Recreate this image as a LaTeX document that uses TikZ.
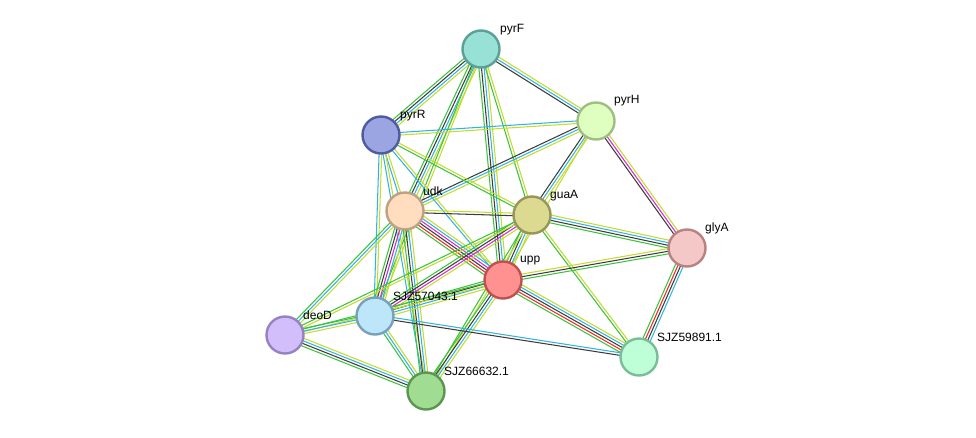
\documentclass[tikz,border=0pt]{standalone}
\usepackage{fontspec}
\setmainfont{Liberation Sans}
\usetikzlibrary{calc,backgrounds}
\definecolor{G}{RGB}{60,195,60}
\definecolor{R}{RGB}{240,40,40}
\definecolor{K}{RGB}{60,60,60}
\definecolor{M}{RGB}{215,40,215}
\definecolor{C}{RGB}{50,180,225}
\definecolor{Y}{RGB}{195,220,45}
\definecolor{fpyrF}{RGB}{152,225,214}\definecolor{bpyrF}{RGB}{90,160,150}
\definecolor{fpyrH}{RGB}{222,255,192}\definecolor{bpyrH}{RGB}{160,190,130}
\definecolor{fpyrR}{RGB}{155,165,225}\definecolor{bpyrR}{RGB}{80,90,160}
\definecolor{fudk}{RGB}{255,221,190}\definecolor{budk}{RGB}{190,160,130}
\definecolor{fguaA}{RGB}{220,218,145}\definecolor{bguaA}{RGB}{150,150,90}
\definecolor{fglyA}{RGB}{245,200,200}\definecolor{bglyA}{RGB}{185,130,130}
\definecolor{fupp}{RGB}{255,145,145}\definecolor{bupp}{RGB}{190,80,80}
\definecolor{fsa}{RGB}{190,230,250}\definecolor{bsa}{RGB}{120,160,185}
\definecolor{fdeoD}{RGB}{210,190,250}\definecolor{bdeoD}{RGB}{150,130,195}
\definecolor{fsb}{RGB}{190,255,215}\definecolor{bsb}{RGB}{120,190,150}
\definecolor{fsc}{RGB}{160,220,145}\definecolor{bsc}{RGB}{90,150,80}
\newcommand\stedge[3]{%
  \foreach \cc [count=\ii] in {#3} {\xdef\nlin{\ii}}%
  \foreach \cc [count=\ii] in {#3} {%
    \pgfmathsetmacro\off{(\ii-(\nlin+1)/2)*2.6}%
    \draw[line width=1.05pt,\cc] ($(#1)!\off pt!90:(#2)$) -- ($(#2)!\off pt!-90:(#1)$);%
  }%
}
\begin{document}
\begin{tikzpicture}[x=1pt,y=-1pt,
  prot/.style={circle,line width=2.4pt,minimum size=37pt,inner sep=0pt},
  lab/.style={anchor=west,font=\fontsize{12}{14}\selectfont,inner sep=0pt}]
\useasboundingbox (0,0) rectangle (976,437);
\node[prot,fill=fpyrF,draw=bpyrF] (pyrF) at (481,49) {};
\node[prot,fill=fpyrH,draw=bpyrH] (pyrH) at (596,121) {};
\node[prot,fill=fpyrR,draw=bpyrR] (pyrR) at (381,135) {};
\node[prot,fill=fudk,draw=budk] (udk) at (405,211) {};
\node[prot,fill=fguaA,draw=bguaA] (guaA) at (532,215) {};
\node[prot,fill=fglyA,draw=bglyA] (glyA) at (687,248) {};
\node[prot,fill=fupp,draw=bupp] (upp) at (503,280) {};
\node[prot,fill=fsa,draw=bsa] (sa) at (375,316) {};
\node[prot,fill=fdeoD,draw=bdeoD] (deoD) at (285,335) {};
\node[prot,fill=fsb,draw=bsb] (sb) at (639,357) {};
\node[prot,fill=fsc,draw=bsc] (sc) at (426,391) {};
\node[lab] (lpyrF) at (500,29.5) {pyrF};
\node[lab] (lpyrR) at (400,115.5) {pyrR};
\node[lab] (lpyrH) at (614,100.5) {pyrH};
\node[lab] (ludk) at (423,191.5) {udk};
\node[lab] (lguaA) at (550,195.5) {guaA};
\node[lab] (lglyA) at (705,228.5) {glyA};
\node[lab] (lupp) at (520,260.5) {upp};
\node[lab] (lsa) at (393,296.5) {SJZ57043.1};
\node[lab] (ldeoD) at (303,315.5) {deoD};
\node[lab] (lsb) at (657,337.5) {SJZ59891.1};
\node[lab] (lsc) at (444,371.5) {SJZ66632.1};
\begin{pgfonlayer}{background}
\stedge{pyrF}{pyrR}{G,K,C,Y}
\stedge{pyrF}{pyrH}{K,C,Y}
\stedge{pyrF}{udk}{G,K,C,Y}
\stedge{pyrF}{sa}{G,Y}
\stedge{pyrF}{upp}{G,K,C,Y}
\stedge{pyrF}{guaA}{G,Y}
\stedge{pyrH}{pyrR}{C,Y}
\stedge{pyrH}{udk}{K,C,Y}
\stedge{pyrH}{guaA}{K,C,Y}
\stedge{pyrH}{upp}{Y}
\stedge{pyrH}{glyA}{K,M,Y}
\stedge{pyrR}{udk}{C,Y}
\stedge{pyrR}{sa}{C,Y}
\stedge{pyrR}{sc}{C,Y}
\stedge{pyrR}{upp}{C,Y}
\stedge{pyrR}{guaA}{G,Y}
\stedge{udk}{guaA}{K,Y}
\stedge{udk}{upp}{G,R,K,M,C,Y}
\stedge{udk}{sa}{G,K,M,C,Y}
\stedge{udk}{sc}{G,K,C,Y}
\stedge{udk}{deoD}{G,C,Y}
\stedge{guaA}{upp}{G,K,C,Y}
\stedge{guaA}{glyA}{G,K,C,Y}
\stedge{guaA}{sb}{G,Y}
\stedge{guaA}{sa}{G,K,M,Y}
\stedge{guaA}{deoD}{G,Y}
\stedge{guaA}{sc}{G,Y}
\stedge{upp}{glyA}{G,K,Y}
\stedge{upp}{sb}{G,R,K,C,Y}
\stedge{upp}{sa}{G,K,C,Y}
\stedge{upp}{sc}{G,K,C,Y}
\stedge{upp}{deoD}{G,Y}
\stedge{glyA}{sb}{G,R,K,C}
\stedge{sa}{sb}{K,C}
\stedge{sa}{sc}{G,C,Y}
\stedge{sa}{deoD}{G,C,Y}
\stedge{deoD}{sc}{G,K,C,Y}
\end{pgfonlayer}
\end{tikzpicture}
\end{document}
